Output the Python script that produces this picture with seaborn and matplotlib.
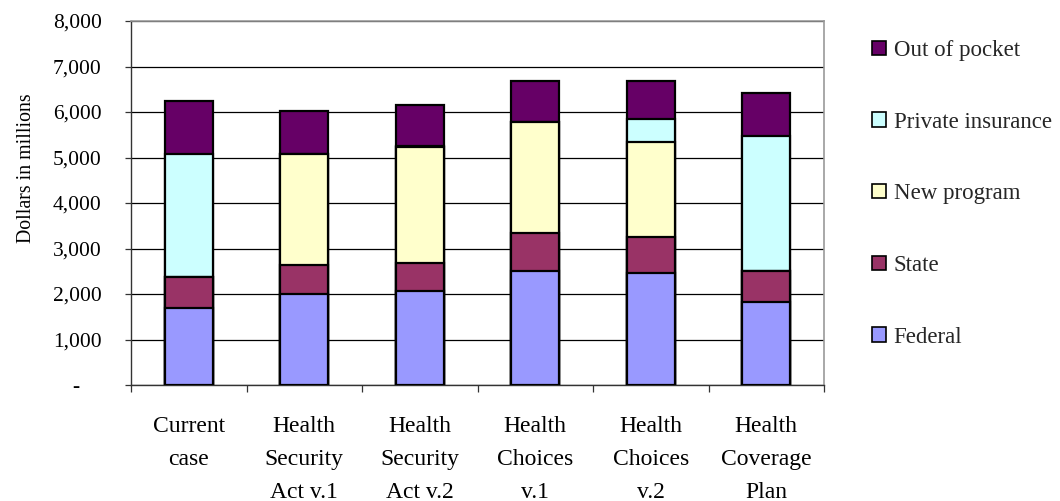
import matplotlib
matplotlib.use("Agg")
import matplotlib.pyplot as plt
from matplotlib.patches import Patch
from matplotlib.ticker import FixedLocator, FuncFormatter
import numpy as np
import pandas as pd
import seaborn as sns

# Spending by payer under each plan (dollars in millions)
plans = ["Current\ncase", "Health\nSecurity\nAct v.1", "Health\nSecurity\nAct v.2",
         "Health\nChoices\nv.1", "Health\nChoices\nv.2", "Health\nCoverage\nPlan"]
federal = [1700, 2010, 2060, 2500, 2455, 1830]
state = [670, 620, 620, 835, 790, 675]
new_program = [0, 2450, 2540, 2455, 2105, 0]
private_insurance = [2710, 0, 40, 0, 490, 2975]
out_of_pocket = [1160, 940, 890, 890, 840, 930]

series_names = ["Federal", "State", "New program", "Private insurance", "Out of pocket"]
series_colors = ["#9999FF", "#993366", "#FFFFCC", "#CCFFFF", "#660066"]
series_values = [federal, state, new_program, private_insurance, out_of_pocket]
y_ticks = [0, 1000, 2000, 3000, 4000, 5000, 6000, 7000, 8000]

sns.set_theme(style="white")
plt.rcParams["font.family"] = ["Liberation Serif", "DejaVu Serif"]

fig = plt.figure(figsize=(10.6, 5.01), dpi=100)
ax = fig.add_axes([131 / 1060, 1 - 385 / 501, 693 / 1060, 364 / 501])

# Stack by drawing cumulative totals, tallest layer first
cum = np.cumsum(np.array(series_values, dtype=float), axis=0)
for i in range(len(series_names) - 1, -1, -1):
    df = pd.DataFrame({"plan": plans, "value": cum[i]})
    sns.barplot(data=df, x="plan", y="value", color=series_colors[i],
                width=0.415, edgecolor="black", linewidth=1.6,
                saturation=1, ax=ax, zorder=3)

ax.set_xlim(-0.5, len(plans) - 0.5)
ax.set_ylim(0, 8000)

# Gridlines and axes frame
ax.yaxis.set_major_locator(FixedLocator(y_ticks))
ax.grid(axis="y", color="black", linewidth=0.9, zorder=0)
ax.grid(axis="x", visible=False)
for side in ["top", "right"]:
    ax.spines[side].set_color("#999999")
    ax.spines[side].set_linewidth(1.2)
for side in ["left", "bottom"]:
    ax.spines[side].set_color("#333333")
    ax.spines[side].set_linewidth(1.0)

def fmt(v, pos):
    return "-    " if v == 0 else f"{int(v):,}"

ax.yaxis.set_major_formatter(FuncFormatter(fmt))
ax.tick_params(axis="y", direction="out", length=4, width=0.9, color="#333333",
               left=True, pad=17, labelsize=15.5, labelcolor="black")

# Category labels at bar centres, tick marks at category boundaries
ax.set_xticks(range(len(plans)))
ax.set_xticklabels(plans, linespacing=1.75)
ax.set_xticks(np.arange(-0.5, len(plans), 1.0), minor=True)
ax.tick_params(axis="x", which="major", length=0, pad=22, labelsize=17, labelcolor="black")
ax.tick_params(axis="x", which="minor", direction="out", length=5, width=0.9,
               color="#333333", bottom=True)
for lbl in ax.get_xticklabels():
    lbl.set_verticalalignment("top")

ax.set_xlabel("")
ax.set_ylabel("Dollars in millions", fontsize=14.3, color="black")
ax.yaxis.set_label_coords(-0.137, 0.595)

# Legend listed top-down from the top of the stack
handles = [Patch(facecolor=series_colors[i], edgecolor="black", linewidth=1.2,
                 label=series_names[i]) for i in range(len(series_names) - 1, -1, -1)]
fig.legend(handles=handles, loc="upper left", bbox_to_anchor=(872 / 1060, 1 - 40 / 501),
           frameon=False, fontsize=16.5, handlelength=0.6, handleheight=0.6,
           handletextpad=0.35, labelspacing=2.21, borderaxespad=0, borderpad=0)

fig.savefig("out.png", dpi=100)
